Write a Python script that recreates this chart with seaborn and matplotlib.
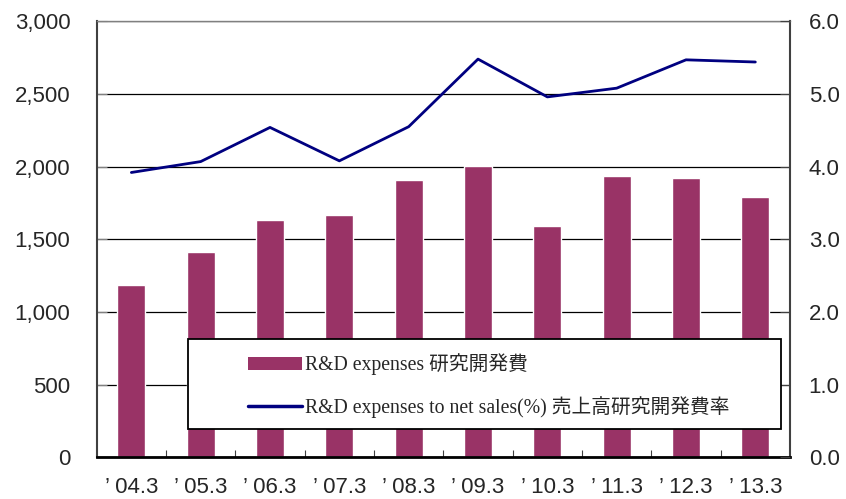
import matplotlib
matplotlib.use("Agg")
import matplotlib.pyplot as plt
import seaborn as sns
import pandas as pd
import numpy as np
from matplotlib.patches import Rectangle, Patch
from matplotlib.lines import Line2D
from matplotlib.ticker import FuncFormatter, MultipleLocator, FixedLocator
from matplotlib.font_manager import FontProperties

# ---- data ----
categories = ["’ 04.3", "’ 05.3", "’ 06.3", "’ 07.3", "’ 08.3",
              "’ 09.3", "’ 10.3", "’ 11.3", "’ 12.3", "’ 13.3"]
rd_expenses = [1186, 1413, 1633, 1667, 1908, 2004, 1591, 1935, 1921, 1791]
rd_ratio = [3.92, 4.07, 4.54, 4.08, 4.55, 5.48, 4.96, 5.08, 5.47, 5.44]
label_bar = "R&D expenses 研究開発費"
label_line = "R&D expenses to net sales(%) 売上高研究開発費率"

BAR_COLOR = "#993366"
LINE_COLOR = "#000080"

sns.set_style("white")
plt.rcParams["font.family"] = ["Liberation Sans", "DejaVu Sans"]

df = pd.DataFrame({"period": categories, "rd": rd_expenses, "ratio": rd_ratio})

fig = plt.figure(figsize=(8.46, 4.99), dpi=100)
ax = fig.add_axes([0.1143, 0.0834, 0.9338 - 0.1143, 0.9573 - 0.0834])

sns.barplot(data=df, x="period", y="rd", color=BAR_COLOR, width=0.4,
            saturation=1, ax=ax, zorder=2)
ax.set_axisbelow(True)
ax.set_xlim(-0.5, len(categories) - 0.5)
ax.set_ylim(0, 3000)
ax.yaxis.set_major_locator(MultipleLocator(500))
ax.yaxis.set_major_formatter(FuncFormatter(lambda v, p: f"{int(v):,}"))
ax.grid(axis="y", color="black", lw=0.9)
ax.grid(axis="x", visible=False)
ax.set_xlabel("")
ax.set_ylabel("")

ax.xaxis.set_minor_locator(FixedLocator(np.arange(0.5, len(categories) - 0.5, 1)))
ax.tick_params(axis="x", which="major", length=0, pad=14, labelsize=16)
ax.tick_params(axis="x", which="minor", direction="in", length=5,
               color="#404040", width=0.8, bottom=True)
ax.tick_params(axis="y", direction="in", length=7, color="#808080",
               pad=19, labelsize=16, left=True)

for side in ["left", "right"]:
    ax.spines[side].set_color("#404040")
    ax.spines[side].set_linewidth(1.5)
ax.spines["top"].set_color("#808080")
ax.spines["top"].set_linewidth(1.0)
ax.spines["bottom"].set_color("black")
ax.spines["bottom"].set_linewidth(2.0)

ax2 = ax.twinx()
sns.lineplot(x=np.arange(len(categories)), y=df["ratio"], ax=ax2,
             color=LINE_COLOR, lw=2.0, zorder=3)
ax2.set_ylim(0, 6)
ax2.yaxis.set_major_locator(MultipleLocator(1.0))
ax2.yaxis.set_major_formatter(FuncFormatter(lambda v, p: f"{v:.1f}"))
ax2.set_ylabel("")
ax2.tick_params(axis="y", direction="in", length=7, color="#404040",
                pad=13.5, labelsize=16, right=True)
ax2.grid(False)
for s in ax2.spines.values():
    s.set_visible(False)

# legend box
box = Rectangle((0.1321, 0.0651), 0.9866 - 0.1321, 0.2715 - 0.0651,
                transform=ax2.transAxes, facecolor="white", edgecolor="black",
                lw=1.3, zorder=5)
ax2.add_patch(box)

handles = [Patch(facecolor=BAR_COLOR, edgecolor="none"),
           Line2D([0], [0], color=LINE_COLOR, lw=2.5)]
leg = ax2.legend(handles, [label_bar, label_line], loc="center left",
                 bbox_to_anchor=(0.2178, 0.1646), frameon=False,
                 prop=FontProperties(family=["Liberation Serif", "Noto Sans CJK JP"], size=14.2),
                 handlelength=2.73, handleheight=0.67, handletextpad=0.2,
                 labelspacing=1.05, borderpad=0, borderaxespad=0)
leg.set_zorder(6)

fig.savefig("out.png", dpi=100)
